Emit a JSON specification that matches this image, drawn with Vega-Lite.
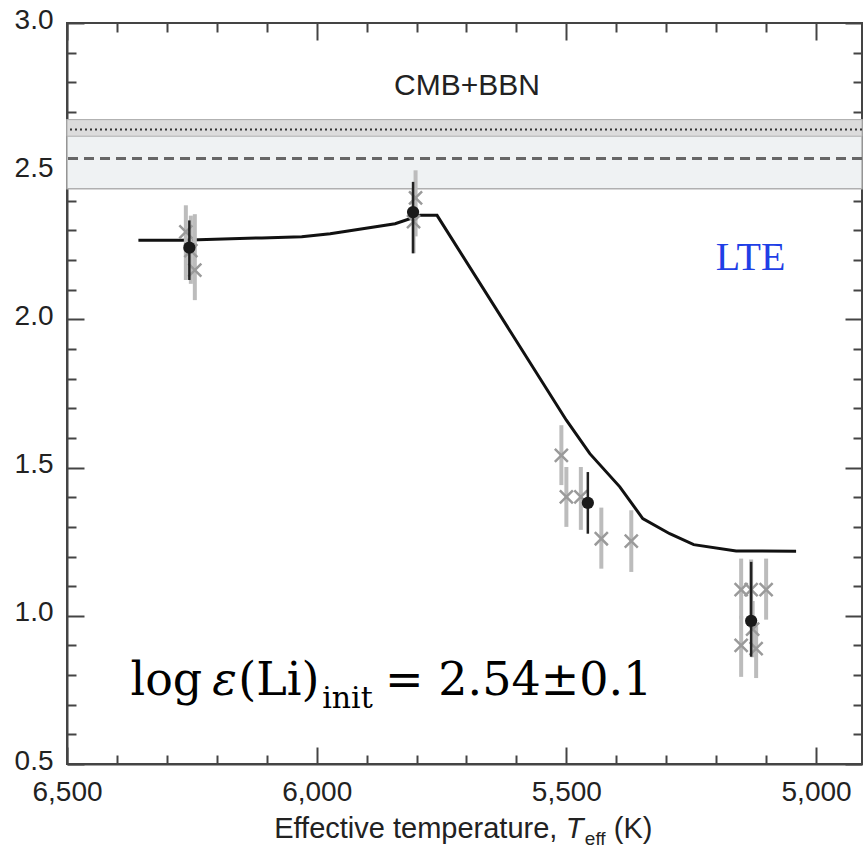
{
  "$schema": "https://vega.github.io/schema/vega-lite/v6.json",
  "width": 795,
  "height": 741,
  "autosize": {"type": "none"},
  "padding": {"left": 67, "top": 23, "right": 3, "bottom": 88},
  "background": "white",
  "config": {
    "view": {"stroke": "#444", "strokeWidth": 2},
    "axis": {"labelFont": "Liberation Sans", "labelFontSize": 28, "labelColor": "#222", "labelFlush": false, "domainColor": "#444", "domainWidth": 2, "tickColor": "#444", "tickWidth": 2, "grid": false, "title": null}
  },
  "datasets": {
    "model": [
      {"T": 6357, "li": 2.267}, {"T": 6270, "li": 2.267}, {"T": 6110, "li": 2.275},
      {"T": 6030, "li": 2.279}, {"T": 5973, "li": 2.289}, {"T": 5843, "li": 2.323},
      {"T": 5793, "li": 2.351}, {"T": 5759, "li": 2.351}, {"T": 5500, "li": 1.66},
      {"T": 5453, "li": 1.547}, {"T": 5393, "li": 1.435}, {"T": 5347, "li": 1.328},
      {"T": 5293, "li": 1.277}, {"T": 5245, "li": 1.24}, {"T": 5160, "li": 1.219},
      {"T": 5040, "li": 1.218}
    ],
    "mean": [
      {"T": 6255, "li": 2.242, "lo": 2.133, "hi": 2.334},
      {"T": 5807, "li": 2.362, "lo": 2.223, "hi": 2.464},
      {"T": 5457, "li": 1.381, "lo": 1.277, "hi": 1.485},
      {"T": 5130, "li": 0.983, "lo": 0.862, "hi": 1.182}
    ],
    "stars": [
      {"T": 6262, "li": 2.295, "lo": 2.133, "hi": 2.385},
      {"T": 6252, "li": 2.232, "lo": 2.12, "hi": 2.35},
      {"T": 6244, "li": 2.166, "lo": 2.065, "hi": 2.355},
      {"T": 5802, "li": 2.41, "lo": 2.28, "hi": 2.503},
      {"T": 5806, "li": 2.33, "lo": 2.223, "hi": 2.44},
      {"T": 5510, "li": 1.541, "lo": 1.441, "hi": 1.643},
      {"T": 5500, "li": 1.401, "lo": 1.3, "hi": 1.502},
      {"T": 5471, "li": 1.401, "lo": 1.29, "hi": 1.502},
      {"T": 5430, "li": 1.26, "lo": 1.159, "hi": 1.365},
      {"T": 5370, "li": 1.252, "lo": 1.148, "hi": 1.356},
      {"T": 5150, "li": 1.088, "lo": 0.99, "hi": 1.193},
      {"T": 5150, "li": 0.9, "lo": 0.794, "hi": 1.0},
      {"T": 5130, "li": 1.088, "lo": 0.99, "hi": 1.19},
      {"T": 5100, "li": 1.088, "lo": 0.987, "hi": 1.193},
      {"T": 5120, "li": 0.889, "lo": 0.79, "hi": 0.965},
      {"T": 5127, "li": 0.955, "lo": 0.86, "hi": 1.05}
    ]
  },
  "layer": [
    {
      "data": {"values": [{"lo": 2.441, "hi": 2.674}]},
      "mark": {"type": "rect", "fill": "#eff2f3", "stroke": "#b0b0b0", "strokeWidth": 1.5},
      "encoding": {
        "y": {"field": "lo", "type": "quantitative", "scale": {"domain": [0.5, 3.0], "nice": false, "zero": false}, "axis": null},
        "y2": {"field": "hi"}
      }
    },
    {
      "data": {"values": [{"lo": 2.618, "hi": 2.674}]},
      "mark": {"type": "rect", "fill": "#dcdcdc", "stroke": "#b0b0b0", "strokeWidth": 1},
      "encoding": {
        "y": {"field": "lo", "type": "quantitative", "axis": null},
        "y2": {"field": "hi"}
      }
    },
    {
      "data": {"values": [{"v": 2.641}]},
      "mark": {"type": "rule", "color": "#333", "strokeWidth": 2, "strokeDash": [2, 3]},
      "encoding": {"y": {"field": "v", "type": "quantitative", "axis": null}}
    },
    {
      "data": {"values": [{"v": 2.5425}]},
      "mark": {"type": "rule", "color": "#666", "strokeWidth": 3, "strokeDash": [10, 6]},
      "encoding": {"y": {"field": "v", "type": "quantitative", "axis": null}}
    },
    {
      "data": {"name": "model"},
      "mark": {"type": "line", "color": "#111", "strokeWidth": 3},
      "encoding": {
        "x": {"field": "T", "type": "quantitative", "scale": {"domain": [4908, 6500], "reverse": true, "nice": false, "zero": false},
          "axis": {"orient": "top", "values": [6500, 6400, 6300, 6200, 6100, 6000, 5900, 5800, 5700, 5600, 5500, 5400, 5300, 5200, 5100, 5000], "labels": false, "domain": false,
            "tickSize": {"condition": {"test": "datum.value % 500 == 0", "value": -17}, "value": -9}}},
        "y": {"field": "li", "type": "quantitative",
          "axis": {"orient": "right", "values": [0.5, 0.6, 0.7, 0.8, 0.9, 1.0, 1.1, 1.2, 1.3, 1.4, 1.5, 1.6, 1.7, 1.8, 1.9, 2.0, 2.1, 2.2, 2.3, 2.4, 2.5, 2.6, 2.7, 2.8, 2.9, 3.0], "labels": false, "domain": false,
            "tickSize": {"condition": {"test": "round(datum.value*10) % 5 == 0", "value": -17}, "value": -9}}}
      }
    },
    {
      "data": {"name": "stars"},
      "mark": {"type": "rule", "color": "#bcbcbc", "strokeWidth": 4},
      "encoding": {
        "x": {"field": "T", "type": "quantitative", "axis": null},
        "y": {"field": "lo", "type": "quantitative", "axis": null},
        "y2": {"field": "hi"}
      }
    },
    {
      "data": {"name": "stars"},
      "mark": {"type": "point", "shape": "M-1,-1L1,1M-1,1L1,-1", "filled": false, "color": "#9a9a9a", "strokeWidth": 2.5, "size": 170, "opacity": 1},
      "encoding": {
        "x": {"field": "T", "type": "quantitative", "axis": null},
        "y": {"field": "li", "type": "quantitative", "axis": null}
      }
    },
    {
      "data": {"name": "mean"},
      "mark": {"type": "rule", "color": "#222", "strokeWidth": 2.5},
      "encoding": {
        "x": {"field": "T", "type": "quantitative", "axis": null},
        "y": {"field": "lo", "type": "quantitative", "axis": null},
        "y2": {"field": "hi"}
      }
    },
    {
      "data": {"name": "mean"},
      "mark": {"type": "circle", "color": "#1a1a1a", "size": 150, "opacity": 1},
      "encoding": {
        "x": {"field": "T", "type": "quantitative",
          "axis": {"orient": "bottom", "values": [6500, 6400, 6300, 6200, 6100, 6000, 5900, 5800, 5700, 5600, 5500, 5400, 5300, 5200, 5100, 5000],
            "labelExpr": "datum.value % 500 == 0 ? format(datum.value, ',') : ''", "labelPadding": 31, "labelOverlap": false,
            "tickSize": {"condition": {"test": "datum.value % 500 == 0", "value": -17}, "value": -9}}},
        "y": {"field": "li", "type": "quantitative",
          "axis": {"orient": "left", "values": [0.5, 0.6, 0.7, 0.8, 0.9, 1.0, 1.1, 1.2, 1.3, 1.4, 1.5, 1.6, 1.7, 1.8, 1.9, 2.0, 2.1, 2.2, 2.3, 2.4, 2.5, 2.6, 2.7, 2.8, 2.9, 3.0],
            "labelExpr": "round(datum.value*10) % 5 == 0 ? format(datum.value, '.1f') : ''", "labelPadding": 31, "labelOffset": -3, "labelOverlap": false,
            "tickSize": {"condition": {"test": "round(datum.value*10) % 5 == 0", "value": -17}, "value": -9}}}
      }
    },
    {
      "data": {"values": [{"T": 5699, "li": 2.758, "t": "CMB+BBN"}]},
      "mark": {"type": "text", "font": "Liberation Sans", "fontSize": 30, "color": "#222", "align": "center", "baseline": "alphabetic"},
      "encoding": {"x": {"field": "T", "type": "quantitative", "axis": null}, "y": {"field": "li", "type": "quantitative", "axis": null}, "text": {"field": "t"}}
    },
    {
      "data": {"values": [{"T": 5131, "li": 2.166, "t": "LTE"}]},
      "mark": {"type": "text", "font": "Liberation Serif", "fontSize": 40, "color": "#1f3fe6", "align": "center", "baseline": "alphabetic"},
      "encoding": {"x": {"field": "T", "type": "quantitative", "axis": null}, "y": {"field": "li", "type": "quantitative", "axis": null}, "text": {"field": "t"}}
    },
    {
      "data": {"values": [{"T": 6373, "li": 0.732, "t": "log"}, {"T": 6157, "li": 0.732, "t": "(Li)"}, {"T": 5863, "li": 0.732, "t": "= 2.54±0.1"}]},
      "mark": {"type": "text", "font": "DejaVu Serif", "fontSize": 46, "color": "#000", "align": "left", "baseline": "alphabetic"},
      "encoding": {"x": {"field": "T", "type": "quantitative", "axis": null}, "y": {"field": "li", "type": "quantitative", "axis": null}, "text": {"field": "t"}}
    },
    {
      "data": {"values": [{"T": 6209, "li": 0.732, "t": "ε"}]},
      "mark": {"type": "text", "font": "DejaVu Serif", "fontSize": 46, "fontStyle": "italic", "color": "#000", "align": "left", "baseline": "alphabetic"},
      "encoding": {"x": {"field": "T", "type": "quantitative", "axis": null}, "y": {"field": "li", "type": "quantitative", "axis": null}, "text": {"field": "t"}}
    },
    {
      "data": {"values": [{"T": 5989, "li": 0.688, "t": "init"}]},
      "mark": {"type": "text", "font": "DejaVu Serif", "fontSize": 30, "color": "#000", "align": "left", "baseline": "alphabetic"},
      "encoding": {"x": {"field": "T", "type": "quantitative", "axis": null}, "y": {"field": "li", "type": "quantitative", "axis": null}, "text": {"field": "t"}}
    },
    {
      "data": {"values": [{"T": 6085, "li": 0.249, "t": "Effective temperature,"}, {"T": 5405, "li": 0.249, "t": "(K)"}]},
      "mark": {"type": "text", "font": "Liberation Sans", "fontSize": 29, "color": "#222", "align": "left", "baseline": "alphabetic"},
      "encoding": {"x": {"field": "T", "type": "quantitative", "axis": null}, "y": {"field": "li", "type": "quantitative", "axis": null}, "text": {"field": "t"}}
    },
    {
      "data": {"values": [{"T": 5501, "li": 0.249, "t": "T"}]},
      "mark": {"type": "text", "font": "Liberation Sans", "fontSize": 29, "fontStyle": "italic", "color": "#222", "align": "left", "baseline": "alphabetic"},
      "encoding": {"x": {"field": "T", "type": "quantitative", "axis": null}, "y": {"field": "li", "type": "quantitative", "axis": null}, "text": {"field": "t"}}
    },
    {
      "data": {"values": [{"T": 5463, "li": 0.226, "t": "eff"}]},
      "mark": {"type": "text", "font": "Liberation Sans", "fontSize": 19, "color": "#222", "align": "left", "baseline": "alphabetic"},
      "encoding": {"x": {"field": "T", "type": "quantitative", "axis": null}, "y": {"field": "li", "type": "quantitative", "axis": null}, "text": {"field": "t"}}
    }
  ],
  "resolve": {"axis": {"x": "independent", "y": "independent"}}
}
